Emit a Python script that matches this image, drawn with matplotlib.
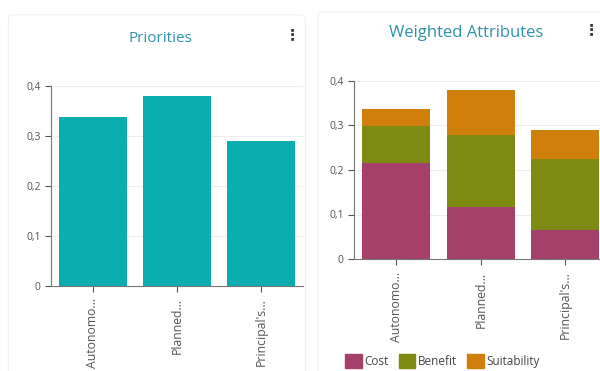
import matplotlib.pyplot as plt
from matplotlib.patches import FancyBboxPatch, Patch
from matplotlib.ticker import FuncFormatter

# priorities per alternative
alternatives = ["Autonomo…", "Planned…", "Principal's…"]
priorities = [0.338, 0.38, 0.29]

# weighted attribute contributions (stacked)
cost = [0.216, 0.117, 0.065]
benefit = [0.083, 0.162, 0.159]
suitability = [0.039, 0.101, 0.066]

yticks = [0, 0.1, 0.2, 0.3, 0.4]

teal = "#0aaeae"
cost_col = "#a5406b"
benefit_col = "#7f8a12"
suit_col = "#cf7f0a"
title_col = "#2f93a6"
tick_col = "#555555"

plt.rcParams['font.family'] = ['Open Sans', 'DejaVu Sans']

fig = plt.figure(figsize=(6, 3.71), dpi=100)
fig.patch.set_facecolor("white")

# card outlines behind each chart
for x0, y1, w in [(0.014, 0.96, 0.495), (0.53, 0.968, 0.5)]:
    fig.patches.append(FancyBboxPatch((x0, -0.05), w, y1 + 0.05, boxstyle="round,pad=0,rounding_size=0.01",
                                      transform=fig.transFigure, facecolor="none",
                                      edgecolor="#f0f0f0", linewidth=0.8))

comma = FuncFormatter(lambda v, p: ("%g" % round(v, 1)).replace(".", ","))


def style_axes(ax):
    ax.set_xlim(-0.5, 2.5)
    ax.set_ylim(0, 0.4)
    ax.set_yticks(yticks)
    ax.yaxis.set_major_formatter(comma)
    ax.set_xticks(range(len(alternatives)))
    ax.set_xticklabels(alternatives, rotation=90, va="top", fontsize=8.8)
    for s in ["top", "right"]:
        ax.spines[s].set_visible(False)
    for s in ["left", "bottom"]:
        ax.spines[s].set_color("#777777")
        ax.spines[s].set_linewidth(0.8)
    ax.tick_params(colors=tick_col, length=4, width=0.8)
    ax.tick_params(axis="x", pad=5)
    ax.tick_params(axis="y", labelsize=7.5)
    ax.grid(axis="y", color="#ededed", linewidth=0.8)
    ax.set_axisbelow(True)


ax1 = fig.add_axes([51 / 600, 1 - 286 / 371, 252 / 600, 200 / 371])
ax1.bar(range(len(alternatives)), priorities, width=0.8, color=teal)
style_axes(ax1)

ax2 = fig.add_axes([354 / 600, 1 - 259 / 371, 253.5 / 600, 178 / 371])
x = range(len(alternatives))
ax2.bar(x, cost, width=0.8, color=cost_col, label="Cost")
ax2.bar(x, benefit, width=0.8, bottom=cost, color=benefit_col, label="Benefit")
bottoms = [c + b for c, b in zip(cost, benefit)]
ax2.bar(x, suitability, width=0.8, bottom=bottoms, color=suit_col, label="Suitability")
style_axes(ax2)

fig.text(160 / 600, 1 - 38 / 371, "Priorities", ha="center", va="center", fontsize=11, color=title_col)
fig.text(466 / 600, 1 - 33 / 371, "Weighted Attributes", ha="center", va="center", fontsize=12, color=title_col)
fig.text(292 / 600, 1 - 35 / 371, "⋮", ha="center", va="center", fontsize=11, color="#333333",
         family="DejaVu Sans", weight="bold")
fig.text(591 / 600, 1 - 30 / 371, "⋮", ha="center", va="center", fontsize=11, color="#333333",
         family="DejaVu Sans", weight="bold")

handles = [Patch(color=cost_col, label="Cost"), Patch(color=benefit_col, label="Benefit"),
           Patch(color=suit_col, label="Suitability")]
fig.legend(handles=handles, loc="center left", bbox_to_anchor=(345 / 600, 1 - 361 / 371), ncol=3,
           frameon=False, fontsize=8.5, handlelength=1.4, handleheight=1.4, handletextpad=0.2,
           columnspacing=0.9, labelcolor="#444444", borderaxespad=0, borderpad=0)

fig.savefig("out.png", dpi=100)
